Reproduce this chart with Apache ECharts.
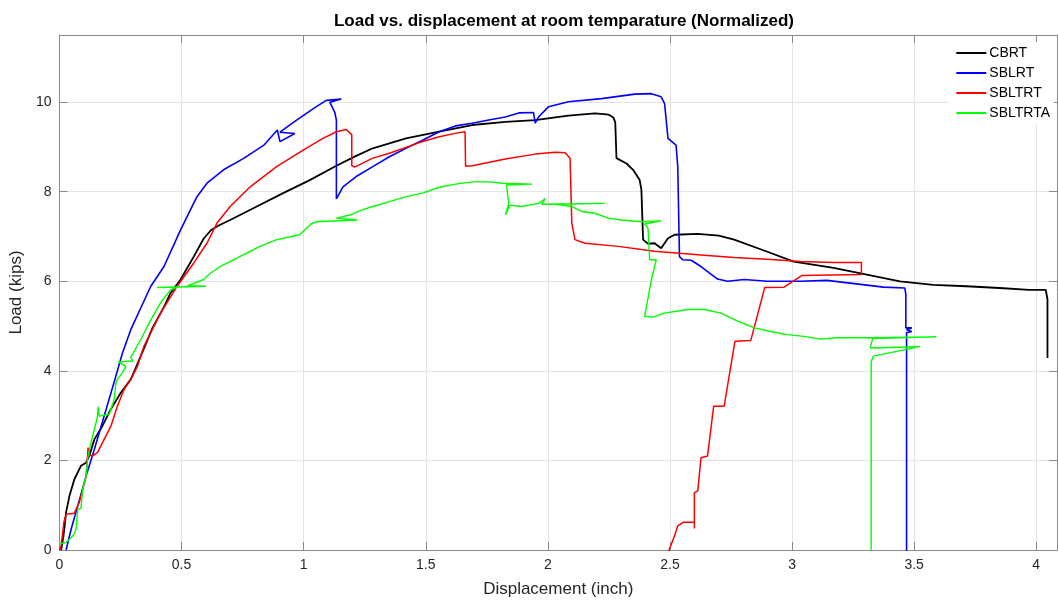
<!DOCTYPE html>
<html>
<head>
<meta charset="utf-8">
<title>Load vs. displacement</title>
<script src="https://cdn.jsdelivr.net/npm/echarts@6/dist/echarts.min.js"></script>
<style>
  html, body { margin: 0; padding: 0; background: #fff; }
  #chart { width: 1058px; height: 603px; }
</style>
</head>
<body>
<div id="chart"></div>
<script>
// Test curves: [displacement (inch), load (kips)]
const seriesNames = ['CBRT', 'SBLRT', 'SBLTRT', 'SBLTRTA'];

const cbrt = [
  [0.007, 0], [0.016, 0.3], [0.023, 0.62], [0.027, 0.84], [0.041, 1.21], [0.061, 1.58],
  [0.088, 1.88], [0.109, 1.95], [0.122, 2.10], [0.143, 2.47], [0.176, 2.77], [0.21, 3.14],
  [0.251, 3.51], [0.292, 3.81], [0.333, 4.33], [0.38, 4.95], [0.43, 5.45], [0.455, 5.74],
  [0.496, 6.04], [0.55, 6.55], [0.59, 6.95], [0.62, 7.14], [0.65, 7.24], [0.699, 7.37],
  [0.808, 7.67], [0.916, 7.97], [1.025, 8.26], [1.134, 8.58], [1.215, 8.80], [1.283, 8.97],
  [1.419, 9.19], [1.555, 9.34], [1.690, 9.49], [1.826, 9.56], [1.948, 9.60], [2.084, 9.70],
  [2.193, 9.75], [2.25, 9.72], [2.268, 9.66], [2.276, 9.55], [2.281, 8.75], [2.322, 8.63],
  [2.349, 8.49], [2.376, 8.26], [2.383, 8.05], [2.390, 6.93], [2.410, 6.84], [2.437, 6.85],
  [2.464, 6.74], [2.478, 6.85], [2.492, 6.96], [2.519, 7.04], [2.614, 7.06], [2.70, 7.02],
  [2.763, 6.93], [2.899, 6.66], [3.007, 6.44], [3.170, 6.30], [3.306, 6.15], [3.442, 6.00],
  [3.578, 5.92], [3.714, 5.89], [3.849, 5.85], [3.971, 5.81], [4.039, 5.81], [4.046, 5.6],
  [4.046, 4.29]
];

const sblrt = [
  [0.027, 0], [0.048, 0.47], [0.075, 0.99], [0.109, 1.65], [0.143, 2.25], [0.183, 2.99],
  [0.224, 3.75], [0.258, 4.4], [0.292, 4.92], [0.374, 5.89], [0.428, 6.33], [0.496, 7.15],
  [0.563, 7.89], [0.604, 8.19], [0.672, 8.49], [0.756, 8.75], [0.837, 9.04], [0.892, 9.38],
  [0.903, 9.12], [0.964, 9.30], [0.903, 9.33], [0.971, 9.60], [1.052, 9.90], [1.093, 10.04],
  [1.154, 10.07], [1.107, 10.0], [1.127, 9.78], [1.134, 9.60], [1.134, 7.84], [1.161, 8.11],
  [1.215, 8.34], [1.283, 8.56], [1.351, 8.78], [1.419, 8.97], [1.487, 9.15], [1.555, 9.34],
  [1.622, 9.47], [1.690, 9.53], [1.758, 9.60], [1.826, 9.67], [1.881, 9.76], [1.941, 9.77],
  [1.948, 9.53], [1.962, 9.67], [2.003, 9.90], [2.084, 10.01], [2.220, 10.08], [2.356, 10.18],
  [2.424, 10.19], [2.464, 10.12], [2.478, 9.97], [2.492, 9.19], [2.525, 9.04], [2.532, 8.56],
  [2.539, 6.55], [2.553, 6.48], [2.587, 6.47], [2.627, 6.33], [2.695, 6.05], [2.736, 6.00],
  [2.804, 6.04], [2.899, 6.00], [3.035, 6.00], [3.143, 6.02], [3.238, 5.96], [3.374, 5.87],
  [3.462, 5.85], [3.466, 5.7], [3.466, 4.96], [3.49, 4.96], [3.469, 4.92], [3.49, 4.88],
  [3.469, 4.85], [3.469, -0.05]
];

const sbltrt = [
  [0, 0], [0.007, 0.1], [0.018, 0.62], [0.027, 0.80], [0.061, 0.82], [0.068, 0.91],
  [0.081, 1.06], [0.095, 1.36], [0.109, 1.65], [0.115, 2.10], [0.117, 2.29], [0.12, 2.12],
  [0.136, 2.10], [0.156, 2.18], [0.183, 2.47], [0.211, 2.77], [0.237, 3.21], [0.265, 3.59],
  [0.292, 3.81], [0.319, 4.10], [0.346, 4.55], [0.414, 5.29], [0.482, 5.89], [0.550, 6.41],
  [0.604, 6.85], [0.645, 7.30], [0.699, 7.67], [0.781, 8.11], [0.889, 8.56], [0.998, 8.93],
  [1.079, 9.19], [1.134, 9.34], [1.174, 9.39], [1.188, 9.32], [1.197, 9.27], [1.197, 8.58],
  [1.209, 8.55], [1.283, 8.75], [1.351, 8.86], [1.419, 8.99], [1.487, 9.12], [1.555, 9.23],
  [1.636, 9.32], [1.661, 9.34], [1.663, 8.57], [1.690, 8.58], [1.826, 8.73], [1.948, 8.84],
  [2.030, 8.88], [2.071, 8.87], [2.091, 8.75], [2.098, 7.30], [2.111, 6.93], [2.152, 6.85],
  [2.288, 6.78], [2.437, 6.67], [2.627, 6.59], [2.763, 6.53], [2.899, 6.49], [3.035, 6.44],
  [3.170, 6.42], [3.284, 6.42], [3.284, 6.15], [3.041, 6.13], [2.967, 5.87], [2.888, 5.86],
  [2.831, 4.68], [2.766, 4.66], [2.722, 3.21], [2.679, 3.21], [2.654, 2.10], [2.627, 2.06],
  [2.614, 1.32], [2.600, 1.28], [2.600, 0.48], [2.600, 0.62], [2.555, 0.62], [2.532, 0.54],
  [2.519, 0.32], [2.498, 0.02], [2.492, -0.05]
];

const sbltrta = [
  [0, 0.13], [0.027, 0.17], [0.041, 0.24], [0.061, 0.36], [0.068, 0.47], [0.075, 0.91],
  [0.088, 0.93], [0.095, 1.36], [0.109, 1.65], [0.115, 2.03], [0.129, 2.40], [0.143, 2.69],
  [0.156, 2.99], [0.158, 3.2], [0.163, 2.99], [0.204, 3.03], [0.224, 3.36], [0.231, 3.73],
  [0.237, 3.81], [0.258, 3.96], [0.272, 4.10], [0.24, 4.2], [0.3, 4.22], [0.292, 4.3],
  [0.333, 4.70], [0.374, 5.14], [0.414, 5.52], [0.455, 5.81], [0.482, 5.87], [0.40, 5.86],
  [0.600, 5.89], [0.523, 5.90], [0.590, 6.04], [0.618, 6.18], [0.658, 6.33], [0.726, 6.52],
  [0.821, 6.78], [0.889, 6.93], [0.984, 7.04], [1.03, 7.28], [1.052, 7.33], [1.22, 7.37],
  [1.134, 7.41], [1.188, 7.48], [1.242, 7.60], [1.283, 7.67], [1.351, 7.78], [1.419, 7.89],
  [1.487, 7.97], [1.555, 8.10], [1.622, 8.17], [1.690, 8.22], [1.758, 8.22], [1.813, 8.19],
  [1.935, 8.17], [1.830, 8.15], [1.840, 7.74], [1.826, 7.48], [1.845, 7.70], [1.894, 7.67],
  [1.962, 7.74], [1.990, 7.85], [1.975, 7.72], [2.233, 7.74], [2.030, 7.72], [2.098, 7.67],
  [2.139, 7.56], [2.193, 7.52], [2.247, 7.41], [2.301, 7.37], [2.383, 7.33], [2.464, 7.35],
  [2.396, 7.28], [2.410, 7.19], [2.417, 6.48], [2.444, 6.48], [2.424, 6.04], [2.403, 5.41],
  [2.396, 5.22], [2.43, 5.2], [2.478, 5.29], [2.573, 5.37], [2.641, 5.37], [2.709, 5.29],
  [2.777, 5.11], [2.845, 4.96], [2.912, 4.88], [2.980, 4.81], [3.048, 4.77], [3.116, 4.71],
  [3.184, 4.74], [3.252, 4.74], [3.320, 4.74], [3.591, 4.76], [3.33, 4.72], [3.320, 4.51],
  [3.523, 4.54], [3.333, 4.33], [3.324, 4.2], [3.324, 0]
];

const xTicks = { min: 0, max: 4.085, step: 0.5 };
const yTicks = { min: 0, max: 11.5, step: 2 };

const FONT = "'Liberation Sans', Arial, Helvetica, sans-serif";
const AXIS_COLOR = '#8a8a8a';
const GRID_COLOR = '#e4e4e4';
const TEXT_COLOR = '#262626';

const chart = echarts.init(document.getElementById('chart'), null, { renderer: 'canvas' });

function boxAxis(range, position, withLabels) {
  return {
    type: 'value',
    position: position,
    min: range.min,
    max: range.max,
    interval: range.step,
    axisLine: { show: true, onZero: false, lineStyle: { color: AXIS_COLOR, width: 1 } },
    axisTick: { show: true, inside: true, length: 8, lineStyle: { color: AXIS_COLOR } },
    axisLabel: {
      show: withLabels, color: TEXT_COLOR, fontFamily: FONT, fontSize: 14,
      showMaxLabel: false, margin: 8
    },
    splitLine: { show: withLabels, lineStyle: { color: GRID_COLOR, width: 1 } }
  };
}

const xMain = boxAxis(xTicks, 'bottom', true);
xMain.name = 'Displacement (inch)';
xMain.nameLocation = 'middle';
xMain.nameGap = 31;
xMain.nameTextStyle = { color: TEXT_COLOR, fontFamily: FONT, fontSize: 17 };

const yMain = boxAxis(yTicks, 'left', true);
yMain.name = 'Load (kips)';
yMain.nameLocation = 'middle';
yMain.nameGap = 23;
yMain.nameTextStyle = { color: TEXT_COLOR, fontFamily: FONT, fontSize: 17 };

const colors = ['#000000', '#0000ff', '#ff0000', '#00ff00'];
const widths = [1.8, 1.6, 1.5, 1.4];
const curves = [cbrt, sblrt, sbltrt, sbltrta];

chart.setOption({
  animation: false,
  backgroundColor: '#ffffff',
  title: {
    text: 'Load vs. displacement at room temparature (Normalized)',
    left: 559,
    top: 8,
    textAlign: 'center',
    textStyle: { color: '#000', fontFamily: FONT, fontSize: 17, fontWeight: 'bold' }
  },
  legend: {
    data: seriesNames,
    orient: 'vertical',
    right: 4,
    top: 42,
    icon: 'rect',
    itemWidth: 30,
    itemHeight: 2,
    itemGap: 6,
    backgroundColor: '#ffffff',
    padding: [4, 4, 4, 8],
    textStyle: { color: '#000', fontFamily: FONT, fontSize: 14, lineHeight: 14, padding: [0, 0, 0, -2] }
  },
  grid: { left: 55, right: 1, top: 35, bottom: 52, containLabel: false },
  xAxis: [xMain, boxAxis(xTicks, 'top', false)],
  yAxis: [yMain, boxAxis(yTicks, 'right', false)],
  series: curves.map((d, i) => ({
    name: seriesNames[i],
    type: 'line',
    data: d,
    xAxisIndex: 0,
    yAxisIndex: 0,
    showSymbol: false,
    symbol: 'none',
    clip: true,
    lineStyle: { color: colors[i], width: widths[i] },
    itemStyle: { color: colors[i] },
    emphasis: { disabled: true }
  }))
});
</script>
</body>
</html>
